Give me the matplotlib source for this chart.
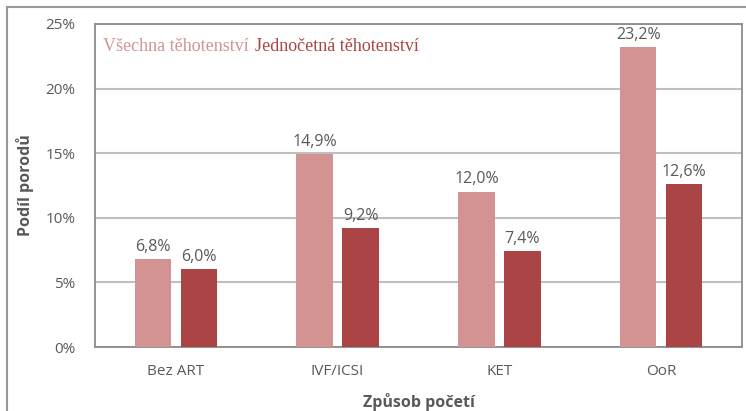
import matplotlib.pyplot as plt
from matplotlib.patches import Rectangle
import numpy as np

categories = ["Bez ART", "IVF/ICSI", "KET", "OoR"]
all_preg = [6.8, 14.9, 12.0, 23.2]
single_preg = [6.0, 9.2, 7.4, 12.6]
yticks = [0, 5, 10, 15, 20, 25]

pink = "#D39393"
dark = "#AB4444"
grey_txt = "#595959"

fig = plt.figure(figsize=(7.46, 4.11), dpi=100)
fig.patches.append(Rectangle((0.009, -0.01), 0.995, 0.993, transform=fig.transFigure,
                             fill=False, edgecolor="#9a9a9a", linewidth=1.5))
ax = fig.add_axes([0.1273, 0.1557, 0.8673, 0.786])

x = np.arange(len(categories))
w = 0.225
off = 0.142
b1 = ax.bar(x - off, all_preg, w, color=pink, zorder=3)
b2 = ax.bar(x + off, single_preg, w, color=dark, zorder=3)

for bars, vals in ((b1, all_preg), (b2, single_preg)):
    for b, v in zip(bars, vals):
        ax.text(b.get_x() + b.get_width() / 2, v + 0.35, f"{v:.1f}%".replace(".", ","),
                ha="center", va="bottom", fontsize=11.5, color=grey_txt, family="Open Sans")

ax.set_xlim(-0.5, 3.5)
ax.set_ylim(0, 25)
ax.set_yticks(yticks)
ax.set_yticklabels([f"{t}%" for t in yticks], fontsize=11, color=grey_txt, family="Open Sans")
ax.set_xticks(x)
ax.set_xticklabels(categories, fontsize=11, color=grey_txt, family="Open Sans")
ax.tick_params(length=0, pad=12)
ax.tick_params(axis="y", pad=14)
ax.grid(axis="y", color="#bfbfbf", linewidth=1.5, zorder=0)
for s in ax.spines.values():
    s.set_color("#8c8c8c")
    s.set_linewidth(1.3)

ax.set_ylabel("Podíl porodů", fontsize=11.5, fontweight="bold", color=grey_txt, family="Open Sans", labelpad=8)
ax.set_xlabel("Způsob početí", fontsize=11.5, fontweight="bold", color=grey_txt, family="Open Sans", labelpad=10)

t1 = ax.text(0.013, 0.955, "Všechna těhotenství", transform=ax.transAxes, ha="left", va="top",
             fontsize=13, color=pink, family="Liberation Serif")
ax.annotate("Jednočetná těhotenství", xy=(1, 0), xycoords=t1, xytext=(4, 0),
            textcoords="offset points", ha="left", va="bottom",
            fontsize=13, color=dark, family="Liberation Serif")

fig.savefig("out.png", dpi=100)
